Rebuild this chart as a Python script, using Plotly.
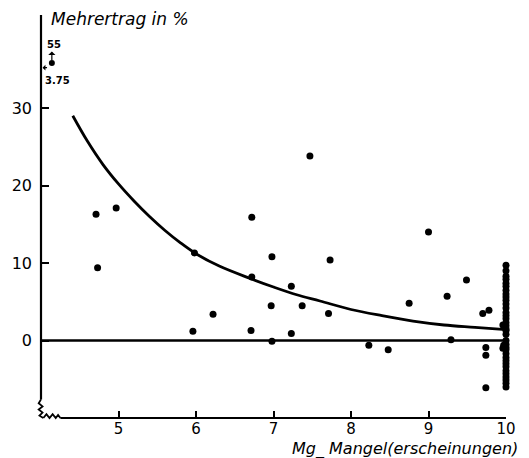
import plotly.graph_objects as go

# Scatter data (Mg-Mangel score, Mehrertrag %)
pts_x = [4.71, 4.97, 4.73, 5.98, 5.96, 6.22, 6.72, 7.47, 6.98, 7.73, 6.72, 7.23,
         6.97, 7.37, 7.71, 6.71, 7.23, 6.98, 9.0, 8.75, 9.24, 8.23, 8.48, 9.29,
         9.49, 9.70, 9.78, 9.74, 9.74, 9.74]
pts_y = [16.3, 17.1, 9.4, 11.3, 1.2, 3.4, 15.9, 23.8, 10.8, 10.4, 8.2, 7.0,
         4.5, 4.5, 3.5, 1.3, 0.9, -0.1, 14.0, 4.8, 5.7, -0.6, -1.2, 0.1,
         7.8, 3.5, 3.9, -0.9, -1.9, -6.1]
col_y = [9.7, 9.0, 8.3, 7.9, 7.4, 7.0, 6.5, 6.0, 5.6, 5.2, 4.7, 4.2, 3.6, 3.2,
         2.8, 2.3, 1.9, 1.5, 1.3, 0.8, 0.0, -0.5, -0.9, -1.2, -1.7, -2.2, -2.6,
         -3.0, -3.4, -3.9, -4.3, -4.7, -5.1, -5.5, -6.0,
         2.0, 2.0, -1.0, -1.0, 1.6, -0.6]
col_x = [10.0] * 35 + [9.96, 10.04, 9.96, 10.04, 10.03, 9.97]

# Fitted curve
curve_x = [4.41, 4.6, 4.8, 5.0, 5.2, 5.4, 5.6, 5.8, 6.0, 6.3, 6.7, 7.0, 7.3,
           7.6, 8.0, 8.4, 8.8, 9.2, 9.6, 10.0]
curve_y = [29.0, 25.7, 22.7, 20.2, 18.0, 16.0, 14.2, 12.6, 11.2, 9.6, 8.0, 6.9,
           5.9, 5.1, 4.0, 3.2, 2.5, 2.0, 1.7, 1.4]

zero_x = [4.0, 10.05]
zero_y = [0, 0]

# Off-scale point marker (x=3.75, y=55)
off_x = [4.14]
off_y = [35.8]
off_label_55 = "55"
off_label_375 = "3.75"

x_ticks = [5, 6, 7, 8, 9, 10]
y_ticks = [0, 10, 20, 30]
x_range = [4, 10]
y_range = [-10, 42]


def px(x):
    return (x - x_range[0]) / (x_range[1] - x_range[0])


def py(y):
    return (y - y_range[0]) / (y_range[1] - y_range[0])


fig = go.Figure()
fig.add_trace(go.Scatter(x=zero_x, y=zero_y, mode="lines",
                         line=dict(color="black", width=2.6), hoverinfo="skip",
                         cliponaxis=False))
fig.add_trace(go.Scatter(x=curve_x, y=curve_y, mode="lines",
                         line=dict(color="black", width=2.8, shape="spline"),
                         hoverinfo="skip"))
fig.add_trace(go.Scatter(x=pts_x + col_x, y=pts_y + col_y, mode="markers",
                         marker=dict(color="black", size=7), cliponaxis=False))
fig.add_trace(go.Scatter(x=off_x, y=off_y, mode="markers",
                         marker=dict(color="black", size=6), cliponaxis=False))

font = "DejaVu Sans"
sq_v = [(4.0, -7.6), (3.97, -8.1), (4.02, -8.5), (3.97, -8.9), (4.02, -9.3),
        (3.98, -9.7), (4.03, -10.0)]
sq_h = [(4.03, -10.0), (4.07, -9.5), (4.11, -10.0), (4.15, -9.5), (4.19, -10.0),
        (4.22, -9.6), (4.25, -10.0)]


def path(pts):
    return "M " + " L ".join(f"{px(a):.4f},{py(b):.4f}" for a, b in pts)


shapes = [
    dict(type="line", xref="paper", yref="paper", x0=0, x1=0, y0=py(-7.6), y1=1.0,
         line=dict(color="black", width=2.2)),
    dict(type="line", xref="paper", yref="paper", x0=px(4.25), x1=1.0, y0=0, y1=0,
         line=dict(color="black", width=2.2)),
    dict(type="path", xref="paper", yref="paper", path=path(sq_v),
         line=dict(color="black", width=1.8)),
    dict(type="path", xref="paper", yref="paper", path=path(sq_h),
         line=dict(color="black", width=1.8)),
]

annotations = [
    dict(x=0.018, xref="paper", y=1.0, yref="paper", yanchor="bottom", xanchor="left",
         yshift=-16, text="<i>Mehrertrag in %</i>", showarrow=False,
         font=dict(family=font, size=17, color="black")),
    dict(x=1.03, xref="paper", y=-0.076, yref="paper", xanchor="right", yanchor="middle",
         text="<i>Mg_ Mangel(erscheinungen)</i>", showarrow=False,
         font=dict(family=font, size=16, color="black")),
    dict(x=4.05, y=38.2, xref="x", yref="y", xanchor="left", yanchor="middle",
         text="<b>" + off_label_55 + "</b>", showarrow=False,
         font=dict(family=font, size=10, color="black")),
    dict(x=4.02, y=33.6, xref="x", yref="y", xanchor="left", yanchor="middle",
         text="<b>" + off_label_375 + "</b>", showarrow=False,
         font=dict(family=font, size=10, color="black")),
    dict(x=off_x[0], y=37.3, xref="x", yref="y", ax=0, ay=10,
         text="", showarrow=True, arrowhead=1, arrowsize=1, arrowwidth=1.2,
         arrowcolor="black"),
    dict(x=4.02, y=35.2, xref="x", yref="y", ax=6, ay=0,
         text="", showarrow=True, arrowhead=1, arrowsize=0.8, arrowwidth=1.2,
         arrowcolor="black"),
]

# The page body has an 8px margin, so the figure is shifted by 8px;
# size and margins are reduced to compensate.
fig.update_layout(
    width=521, height=450,
    margin=dict(l=33, r=23, t=7, b=40, autoexpand=False),
    paper_bgcolor="white", plot_bgcolor="white",
    showlegend=False,
    shapes=shapes,
    annotations=annotations,
    xaxis=dict(range=x_range, tickvals=x_ticks, ticktext=[str(v) for v in x_ticks],
               ticks="inside", ticklen=7, tickwidth=2, tickcolor="black",
               showgrid=False, zeroline=False, showline=False, automargin=False,
               tickfont=dict(family=font, size=15, color="black")),
    yaxis=dict(range=y_range, tickvals=y_ticks, ticktext=[str(v) for v in y_ticks],
               ticks="inside", ticklen=8, tickwidth=2, tickcolor="black",
               showgrid=False, zeroline=False, showline=False, automargin=False,
               ticklabelstandoff=8,
               tickfont=dict(family=font, size=16, color="black")),
)

fig.write_html("out.html")
